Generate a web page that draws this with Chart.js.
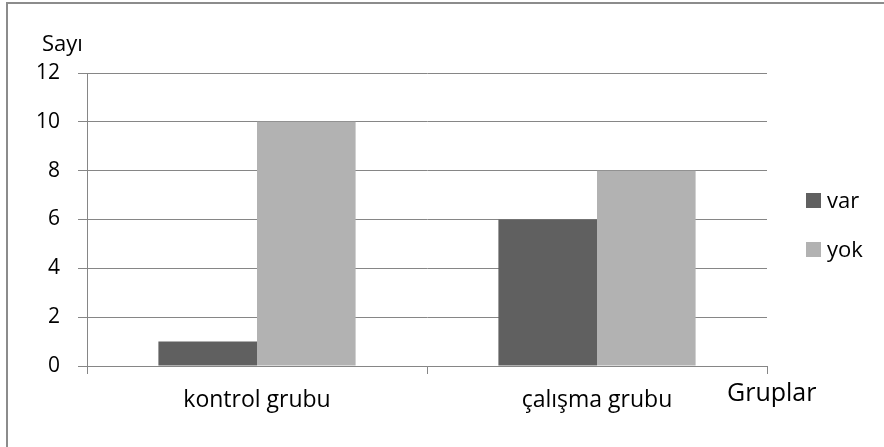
<!DOCTYPE html>
<html>
<head>
<meta charset="utf-8">
<script src="https://cdn.jsdelivr.net/npm/chart.js@4.4.1/dist/chart.umd.min.js"></script>
<style>
  html, body { margin: 0; padding: 0; background: #fff; overflow: hidden; }
  #frame { position: absolute; left: 6px; top: 2px; width: 900px; height: 470px; border: 2px solid #8c8c8c; box-sizing: border-box; }
  #wrap { position: absolute; left: 0; top: 0; width: 884px; height: 447px; }
</style>
</head>
<body>
<div id="frame"></div>
<div id="wrap"><canvas id="c" width="884" height="447"></canvas></div>
<script>
const categories = ["kontrol grubu", "çalışma grubu"];
const seriesNames = ["var", "yok"];
const varValues = [1, 6];
const yokValues = [10, 8];
const yTicks = [0, 2, 4, 6, 8, 10, 12];
const yAxisTitle = "Sayı";
const xAxisTitle = "Gruplar";

const FONT = "'Open Sans', sans-serif";
const colors = ["#606060", "#b2b2b2"];

const extras = {
  id: 'extras',
  afterDraw(chart) {
    const ctx = chart.ctx;
    const x = chart.scales.x;
    ctx.save();
    ctx.fillStyle = '#000';
    ctx.textBaseline = 'alphabetic';
    ctx.textAlign = 'left';
    ctx.font = "22px " + FONT;
    ctx.fillText(yAxisTitle, 42, 51);
    ctx.font = "25px " + FONT;
    ctx.fillText(xAxisTitle, x.right - 40, 401);
    // legend
    ctx.font = "22px " + FONT;
    chart.data.datasets.forEach((ds, i) => {
      const top = 193 + i * 49;
      ctx.fillStyle = ds.backgroundColor;
      ctx.fillRect(806, top, 15, 15);
      ctx.fillStyle = '#000';
      ctx.fillText(ds.label, 827, top + 15);
    });
    ctx.restore();
  }
};

new Chart(document.getElementById('c'), {
  type: 'bar',
  data: {
    labels: categories,
    datasets: [
      { label: seriesNames[0], data: varValues, backgroundColor: colors[0] },
      { label: seriesNames[1], data: yokValues, backgroundColor: colors[1] }
    ]
  },
  options: {
    responsive: false,
    animation: false,
    devicePixelRatio: 1,
    layout: { padding: { left: 0, right: 117, top: 73, bottom: 0 } },
    plugins: { legend: { display: false }, tooltip: { enabled: false } },
    datasets: { bar: { categoryPercentage: 0.58, barPercentage: 1.0 } },
    scales: {
      x: {
        offset: true,
        grid: { offset: true, drawOnChartArea: false, drawTicks: true, tickLength: 8, color: '#868686', lineWidth: 1 },
        border: { color: '#868686', width: 1 },
        ticks: { color: '#000', font: { family: FONT, size: 23 }, padding: 13, maxRotation: 0 },
        afterFit(s) { s.height = 81; }
      },
      y: {
        min: 0, max: 12,
        afterBuildTicks(s) { s.ticks = yTicks.map(v => ({ value: v })); },
        grid: { color: '#868686', lineWidth: 1, tickLength: 9 },
        border: { color: '#868686', width: 1 },
        ticks: { color: '#000', font: { family: FONT, size: 21 }, padding: 18 },
        afterFit(s) { s.width = 87; }
      }
    }
  },
  plugins: [extras]
});
</script>
</body>
</html>
